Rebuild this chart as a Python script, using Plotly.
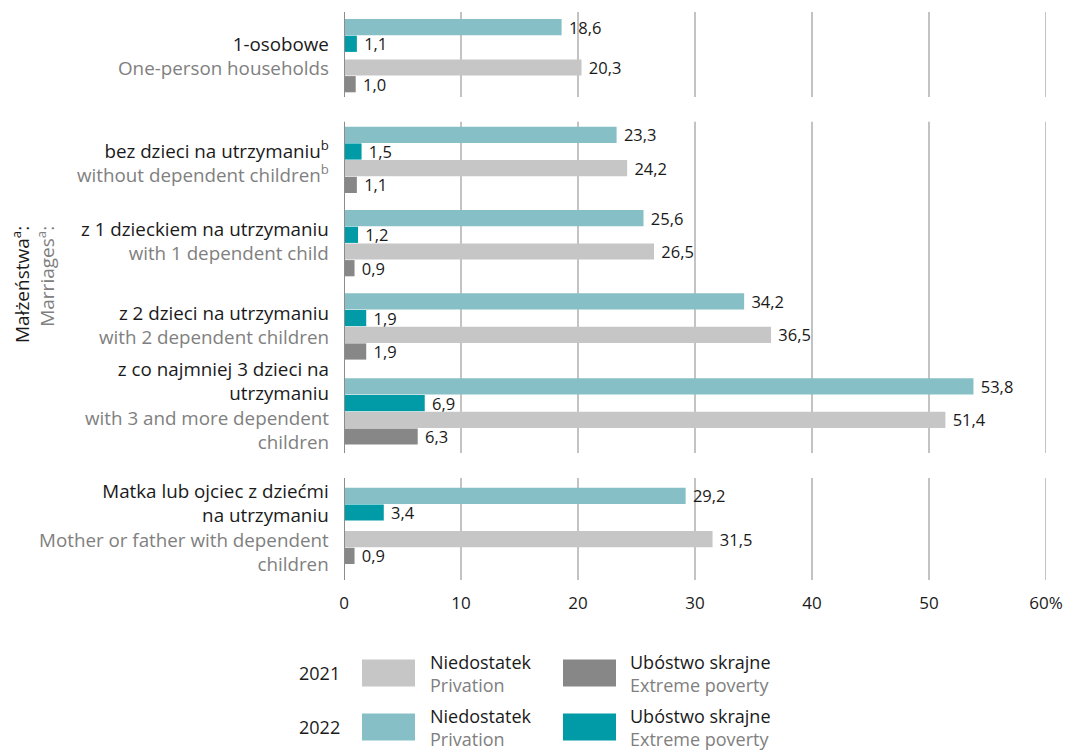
import plotly.graph_objects as go

# ---------------- data ----------------
labels_pl = [
    "1-osobowe",
    "bez dzieci na utrzymaniu<sup>b</sup>",
    "z 1 dzieckiem na utrzymaniu",
    "z 2 dzieci na utrzymaniu",
    "z co najmniej 3 dzieci na<br>utrzymaniu",
    "Matka lub ojciec z dziećmi<br>na utrzymaniu",
]
labels_en = [
    "One-person households",
    "without dependent children<sup>b</sup>",
    "with 1 dependent child",
    "with 2 dependent children",
    "with 3 and more dependent<br>children",
    "Mother or father with dependent<br>children",
]
privation_2022 = [18.6, 23.3, 25.6, 34.2, 53.8, 29.2]
extreme_2022 = [1.1, 1.5, 1.2, 1.9, 6.9, 3.4]
privation_2021 = [20.3, 24.2, 26.5, 36.5, 51.4, 31.5]
extreme_2021 = [1.0, 1.1, 0.9, 1.9, 6.3, 0.9]
x_ticks = [0, 10, 20, 30, 40, 50, 60]
x_tick_labels = ["0", "10", "20", "30", "40", "50", "60%"]

# ---------------- layout geometry (page pixels) ----------------
PAGE_OFF = 8                      # browser body margin
W, H = 1074 - PAGE_OFF, 750 - PAGE_OFF
X0_PAGE, X60_PAGE = 344, 1046     # page x of value 0 and 60
Y_TOP, Y_BOT = PAGE_OFF, 591      # page y of plot top / bottom
ML = X0_PAGE - PAGE_OFF
MR = W - (X60_PAGE - PAGE_OFF)
MT = Y_TOP - PAGE_OFF
MB = H - (Y_BOT - PAGE_OFF)

GROUP_TOP = [19, 126.7, 210, 293.3, 378.3, 487.7]
PAIR_GAP = [7, 0, 0, 0, 0, 10]
BAR_STEP = 16.7
BAR_W = 16.2
LABEL_Y = [56, 161.5, 241, 325, 405.5, 527.5]
SECTIONS = [(12, 97), (121.7, 453), (478, 580)]

def bar_pos(k):
    return [t + k * BAR_STEP + BAR_W / 2 + (g if k >= 2 else 0)
            for t, g in zip(GROUP_TOP, PAIR_GAP)]

def px(x):
    return (x - X0_PAGE) / (X60_PAGE - X0_PAGE)

def py(y):
    return (Y_BOT - y) / (Y_BOT - Y_TOP)

C_PRIV22 = "#86c0c6"
C_EXT22 = "#009ba6"
C_PRIV21 = "#c6c6c6"
C_EXT21 = "#878787"
BLACK = "#1a1a1a"
GREY = "#808080"
FONT = "Open Sans"

fig = go.Figure()
series = [
    ("Niedostatek 2022", privation_2022, C_PRIV22, 0),
    ("Ubóstwo skrajne 2022", extreme_2022, C_EXT22, 1),
    ("Niedostatek 2021", privation_2021, C_PRIV21, 2),
    ("Ubóstwo skrajne 2021", extreme_2021, C_EXT21, 3),
]
for name, vals, col, k in series:
    fig.add_trace(go.Bar(
        x=vals, y=bar_pos(k), orientation="h", name=name,
        width=BAR_W, marker=dict(color=col, line=dict(width=0)),
        texttemplate="\u00a0%{x:.1f}", textposition="outside",
        textfont=dict(size=16.5, color=BLACK, family=FONT),
        cliponaxis=False, constraintext="none", showlegend=False,
        hoverinfo="skip",
    ))

shapes = []
for (y0, y1) in SECTIONS:
    for v in x_ticks[1:]:
        shapes.append(dict(type="line", xref="x", yref="y", x0=v, x1=v, y0=y0, y1=y1,
                           line=dict(color="#a3a3a3", width=1.3), layer="below"))
    shapes.append(dict(type="line", xref="x", yref="y", x0=0, x1=0, y0=y0, y1=y1,
                       line=dict(color="#8c8c8c", width=2), layer="above"))

annotations = []
for pl, en, yc in zip(labels_pl, labels_en, LABEL_Y):
    annotations.append(dict(
        x=0, xref="x", y=yc, yref="y", xanchor="right", yanchor="middle",
        xshift=-13, align="right", showarrow=False,
        text=f"<span style='color:{BLACK}'>{pl}</span><br><span style='color:{GREY}'>{en}</span>",
        font=dict(size=18.8, family=FONT),
    ))

annotations.append(dict(
    x=px(33), xref="paper", y=py(285), yref="paper", xanchor="center", yanchor="middle",
    textangle=-90, align="right", showarrow=False,
    text=f"<span style='color:{BLACK}'>Małżeństwa<sup>a</sup>:</span><br><span style='color:{GREY}'>Marriages<sup>a</sup>:</span>",
    font=dict(size=19, family=FONT),
))

# ---------------- custom legend ----------------
legend_rows = [("2021", 673, C_PRIV21, C_EXT21), ("2022", 727, C_PRIV22, C_EXT22)]
for year, yc, c1, c2 in legend_rows:
    annotations.append(dict(
        x=px(342), xref="paper", y=py(yc), yref="paper", xanchor="right", yanchor="middle",
        showarrow=False, text=year, font=dict(size=18, color=BLACK, family=FONT)))
    for (x0, x1, col, tx, t1, t2) in [
        (362, 415, c1, 428, "Niedostatek", "Privation"),
        (563, 616, c2, 628, "Ubóstwo skrajne", "Extreme poverty"),
    ]:
        shapes.append(dict(type="rect", xref="paper", yref="paper",
                           x0=px(x0), x1=px(x1), y0=py(yc - 13.5), y1=py(yc + 13.5),
                           fillcolor=col, line=dict(width=0)))
        annotations.append(dict(
            x=px(tx), xref="paper", y=py(yc), yref="paper", xanchor="left", yanchor="middle",
            align="left", showarrow=False,
            text=f"<span style='color:{BLACK}'>{t1}</span><br><span style='color:{GREY}'>{t2}</span>",
            font=dict(size=18, family=FONT)))

fig.update_layout(
    width=W, height=H,
    margin=dict(l=ML, r=MR, t=MT, b=MB),
    paper_bgcolor="white", plot_bgcolor="white",
    separators=", ",
    barmode="overlay",
    font=dict(family=FONT, color=BLACK),
    xaxis=dict(range=[0, 60], tickvals=x_ticks, ticktext=x_tick_labels,
               showgrid=False, zeroline=False, showline=False, ticks="",
               tickfont=dict(size=17, color=BLACK, family=FONT), fixedrange=True),
    yaxis=dict(range=[Y_BOT, Y_TOP], showgrid=False, zeroline=False, showline=False,
               showticklabels=False, ticks="", fixedrange=True),
    shapes=shapes, annotations=annotations,
)

fig.write_html("out.html")
